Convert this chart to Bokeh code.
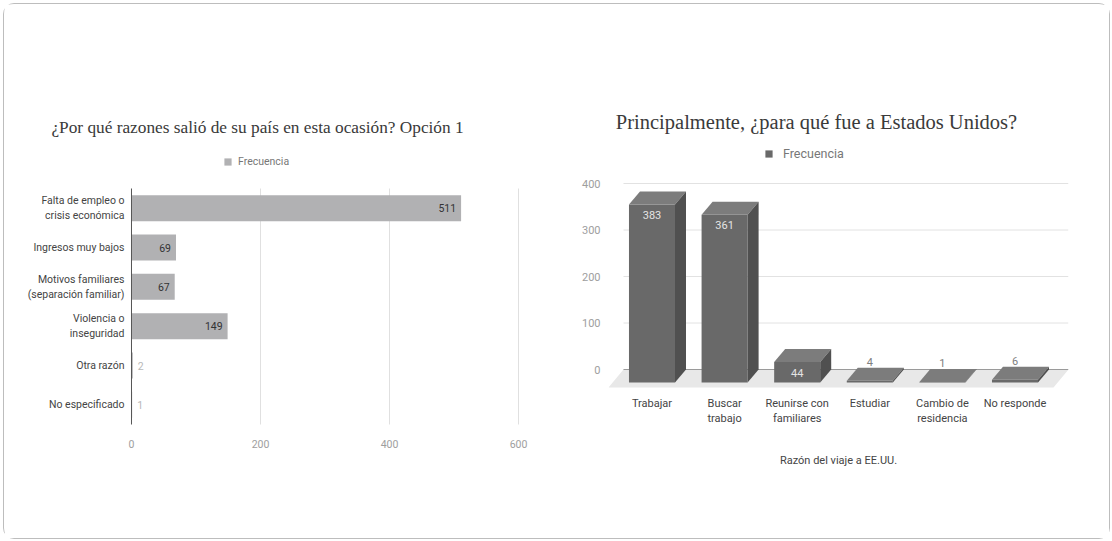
from bokeh.plotting import figure
from bokeh.models import Range1d, Label, Legend, LegendItem, FixedTicker
from bokeh.layouts import row
from bokeh.embed import file_html
from bokeh.resources import INLINE
from bokeh.core.properties import value

# ---------------- data ----------------
series_name = "Frecuencia"

left_title = "¿Por qué razones salió de su país en esta ocasión? Opción 1"
left_categories = [
    "Falta de empleo o\ncrisis económica",
    "Ingresos muy bajos",
    "Motivos familiares\n(separación familiar)",
    "Violencia o\ninseguridad",
    "Otra razón",
    "No especificado",
]
left_values = [511, 69, 67, 149, 2, 1]
left_ticks = [0, 200, 400, 600]

right_title = "Principalmente, ¿para qué fue a Estados Unidos?"
right_categories = [
    "Trabajar",
    "Buscar\ntrabajo",
    "Reunirse con\nfamiliares",
    "Estudiar",
    "Cambio de\nresidencia",
    "No responde",
]
right_values = [383, 361, 44, 4, 1, 6]
right_ticks = [0, 100, 200, 300, 400]
right_axis_title = "Razón del viaje a EE.UU."

# ---------------- styles ----------------
SANS = "Roboto"
SERIF = "Liberation Serif"
TITLE_COLOR = "#3a3a3a"
LABEL_SIZE = "11px"
FIG_H = 534
BOTTOM = 50           # common bottom border of both figures (frames share top/bottom)

# ---------------- left chart (horizontal bars) ----------------
n = len(left_categories)
ypos = [n - 1 - k for k in range(n)]          # first category at the top

p1 = figure(width=556, height=FIG_H,
            x_range=Range1d(-196.90, 665.12), y_range=Range1d(-2.1271, 10.178),
            y_axis_location=None,
            output_backend="svg", toolbar_location=None,
            min_border_left=0, min_border_right=0,
            min_border_top=0, min_border_bottom=BOTTOM)
p1.outline_line_color = None
p1.grid.grid_line_color = None

gl = [t for t in left_ticks if t != 0]
p1.segment(x0=gl, x1=gl, y0=[-0.5] * len(gl), y1=[n - 0.5] * len(gl),
           line_color="#e0e0e0", line_width=1)

r1 = p1.hbar(y=ypos, right=left_values, left=0, height=0.66,
             fill_color="#b1b1b3", line_color=None)
p1.segment(x0=[0], x1=[0], y0=[-0.5], y1=[n - 0.5], line_color="#555555", line_width=1)

# category labels
p1.text(x=[0] * n, y=ypos, text=left_categories, text_align="right", text_baseline="middle",
        x_offset=-7, text_font=value(SANS), text_font_size="10.5px", text_color="#444444",
        text_line_height=1.2)

p1.xaxis.fixed_location = -0.5
p1.xaxis.ticker = FixedTicker(ticks=left_ticks)
p1.xaxis.axis_line_color = None
p1.xaxis.major_tick_line_color = None
p1.xaxis.minor_tick_line_color = None
p1.xaxis.major_tick_out = 0
p1.xaxis.minor_tick_out = 0
p1.xaxis.major_label_text_color = "#9e9e9e"
p1.xaxis.major_label_text_font = SANS
p1.xaxis.major_label_text_font_size = "10.5px"
p1.xaxis.major_label_standoff = 15

inside = [i for i, v in enumerate(left_values) if v >= 20]
outside = [i for i, v in enumerate(left_values) if v < 20]
p1.text(x=[left_values[i] for i in inside], y=[ypos[i] for i in inside],
        text=[str(left_values[i]) for i in inside],
        text_align="right", text_baseline="middle", x_offset=-5,
        text_font=value(SANS), text_font_size="10.5px", text_color="#333333")
p1.text(x=[left_values[i] for i in outside], y=[ypos[i] for i in outside],
        text=[str(left_values[i]) for i in outside],
        text_align="left", text_baseline="middle", x_offset=5,
        text_font=value(SANS), text_font_size="10.5px", text_color="#b8b8b8")

p1.add_layout(Label(x=195.35, y=7.051, text=left_title,
                    text_align="center", text_baseline="middle",
                    text_font=SERIF, text_font_size="17.3px", text_color=TITLE_COLOR))

leg1 = Legend(items=[LegendItem(label=series_name, renderers=[r1])],
              location=(219, 320.5), orientation="horizontal",
              glyph_width=9, glyph_height=9, label_standoff=6, padding=0, margin=0,
              spacing=0, label_height=13, border_line_color=None,
              background_fill_alpha=0, label_text_font=SANS,
              label_text_font_size="10.5px", label_text_color="#777777")
p1.add_layout(leg1, "center")

# ---------------- right chart (3D columns) ----------------
XS, XE = -0.599, 5.737          # horizontal extent of the plotting frame
YS, YE = -255.91, 784.95        # vertical extent of the plotting frame
W = 0.634                       # column front width
DX, DY = 0.1515, 27.96          # 3D depth offset of columns
FDX, FDY = 0.2066, 38.7         # 3D depth offset of floor
AXIS_Y = -40.86                 # category axis sits at the front edge of the floor

p2 = figure(width=549, height=FIG_H,
            x_range=Range1d(XS, XE), y_range=Range1d(YS, YE),
            output_backend="svg", toolbar_location=None,
            min_border_left=48, min_border_right=41,
            min_border_top=0, min_border_bottom=BOTTOM)
p2.outline_line_color = None
p2.grid.grid_line_color = None

p2.patch([XS, XS + FDX, XE, XE - FDX], [-FDY, 0, 0, -FDY],
         fill_color="#e8e8e8", line_color=None)
grid_t = [t for t in right_ticks if t != 0]
p2.segment(x0=[XS + FDX] * len(grid_t), x1=[XE] * len(grid_t), y0=grid_t, y1=grid_t,
           line_color="#e2e2e2", line_width=1)
p2.segment(x0=[XS + FDX], x1=[XE], y0=[0], y1=[0], line_color="#9a9a9a", line_width=1)

xi = list(range(len(right_values)))
front = p2.quad(left=[i - W / 2 for i in xi], right=[i + W / 2 for i in xi],
                bottom=[-DY] * len(xi), top=[v - DY for v in right_values],
                fill_color="#696969", line_color=None)
p2.patches(
    xs=[[i - W / 2, i - W / 2 + DX, i + W / 2 + DX, i + W / 2] for i in xi],
    ys=[[v - DY, v, v, v - DY] for v in right_values],
    fill_color="#7c7c7c", line_color=None)
p2.patches(
    xs=[[i + W / 2, i + W / 2, i + W / 2 + DX, i + W / 2 + DX] for i in xi],
    ys=[[-DY, v - DY, v, 0] for v in right_values],
    fill_color="#505050", line_color=None)

rin = [i for i, v in enumerate(right_values) if v >= 20]
rout = [i for i, v in enumerate(right_values) if v < 20]
p2.text(x=rin, y=[right_values[i] - DY for i in rin], text=[str(right_values[i]) for i in rin],
        text_align="center", text_baseline="middle", y_offset=10.5,
        text_font=value(SANS), text_font_size=LABEL_SIZE, text_color="#e4e4e4")
p2.text(x=rout, y=[right_values[i] for i in rout], text=[str(right_values[i]) for i in rout],
        text_align="center", text_baseline="middle", y_offset=-6,
        text_font=value(SANS), text_font_size=LABEL_SIZE, text_color="#808080")

p2.yaxis.ticker = FixedTicker(ticks=right_ticks)
p2.yaxis.axis_line_color = None
p2.yaxis.major_tick_line_color = None
p2.yaxis.minor_tick_line_color = None
p2.yaxis.major_tick_out = 0
p2.yaxis.minor_tick_out = 0
p2.yaxis.major_label_standoff = 8
p2.yaxis.major_label_text_color = "#9e9e9e"
p2.yaxis.major_label_text_font = SANS
p2.yaxis.major_label_text_font_size = LABEL_SIZE

p2.xaxis.fixed_location = AXIS_Y
p2.xaxis.ticker = FixedTicker(ticks=xi)
p2.xaxis.major_label_overrides = {i: c for i, c in enumerate(right_categories)}
p2.xaxis.axis_line_color = None
p2.xaxis.major_tick_line_color = None
p2.xaxis.minor_tick_line_color = None
p2.xaxis.major_tick_out = 0
p2.xaxis.minor_tick_out = 0
p2.xaxis.major_label_standoff = 8
p2.xaxis.major_label_text_color = "#444444"
p2.xaxis.major_label_text_font = SANS
p2.xaxis.major_label_text_font_size = LABEL_SIZE
p2.xaxis.axis_label = right_axis_title
p2.xaxis.axis_label_text_font = SANS
p2.xaxis.axis_label_text_font_style = "normal"
p2.xaxis.axis_label_text_font_size = LABEL_SIZE
p2.xaxis.axis_label_text_color = "#444444"
p2.xaxis.axis_label_standoff = 26

p2.add_layout(Label(x=2.266, y=531.2, text=right_title,
                    text_align="center", text_baseline="middle",
                    text_font=SERIF, text_font_size="20.5px", text_color=TITLE_COLOR))

leg2 = Legend(items=[LegendItem(label=series_name, renderers=[front])],
              location=(156, 327.5), orientation="horizontal",
              glyph_width=9, glyph_height=9, label_standoff=10, padding=0, margin=0,
              spacing=0, label_height=13, border_line_color=None,
              background_fill_alpha=0, label_text_font=SANS,
              label_text_font_size="12.5px", label_text_color="#777777")
p2.add_layout(leg2, "center")

layout = row(p1, p2, spacing=0,
             styles={"border": "1px solid #bdbdbd", "border-radius": "11px",
                     "margin": "3px 0 0 3px"})

open("out.html", "w").write(file_html(layout, INLINE))
